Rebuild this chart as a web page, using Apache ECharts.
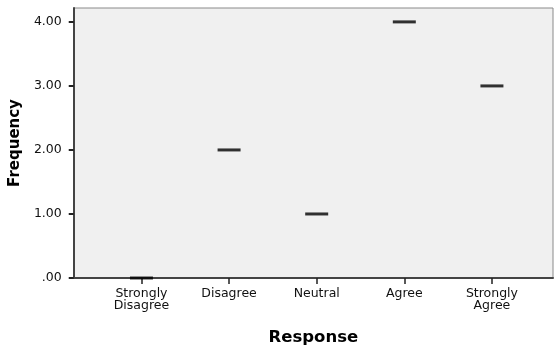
<!DOCTYPE html>
<html>
<head>
<meta charset="utf-8">
<script src="https://cdn.jsdelivr.net/npm/echarts@6/dist/echarts.min.js"></script>
<style>html,body{margin:0;padding:0;background:#fff}#c{width:555px;height:351px}</style>
</head>
<body>
<div id="c"></div>
<script>
var categories = ['Strongly\nDisagree', 'Disagree', 'Neutral', 'Agree', 'Strongly\nAgree'];
var frequency = [0, 2, 1, 4, 3];
var yTicks = [0, 1, 2, 3, 4];

var chart = echarts.init(document.getElementById('c'), null, {renderer: 'canvas'});
var pts = frequency.map(function (v, i) { return [i, v]; });
var xTicks = categories.map(function (c, i) { return i; });
var font = '"DejaVu Sans", Verdana, sans-serif';
chart.setOption({
  animation: false,
  backgroundColor: '#ffffff',
  grid: {left: 72, right: 2, top: 8, bottom: 71, show: true, backgroundColor: '#f0f0f0', borderColor: '#8a8a8a', borderWidth: 1},
  xAxis: {
    type: 'value', min: -0.773, max: 4.697,
    name: 'Response', nameLocation: 'middle', nameGap: 51,
    nameTextStyle: {fontFamily: font, fontSize: 16.5, fontWeight: 'bold', color: '#000'},
    splitLine: {show: false},
    axisLine: {show: true, onZero: false, lineStyle: {color: '#444', width: 2}},
    axisTick: {show: true, length: 6, customValues: xTicks, lineStyle: {color: '#222', width: 1.5}},
    axisLabel: {customValues: xTicks, margin: 10, fontFamily: font, fontSize: 12.5, color: '#111', lineHeight: 12,
      formatter: function (v) { return categories[Math.round(v)]; }}
  },
  yAxis: {
    type: 'value', min: 0, max: 4.217,
    name: 'Frequency', nameLocation: 'middle', nameGap: 44,
    nameTextStyle: {fontFamily: font, fontSize: 15, fontWeight: 'bold', color: '#000'},
    splitLine: {show: false},
    axisLine: {show: true, onZero: false, lineStyle: {color: '#444', width: 2}},
    axisTick: {show: true, length: 5, customValues: yTicks, lineStyle: {color: '#222', width: 2}},
    axisLabel: {customValues: yTicks, margin: 12, fontFamily: font, fontSize: 12.5, color: '#111',
      formatter: function (v) { return v === 0 ? '.00' : v.toFixed(2); }}
  },
  series: [{
    type: 'scatter', data: pts, symbol: 'rect', symbolSize: [23, 3],
    itemStyle: {color: '#000'}, z: 5
  }]
});
</script>
</body>
</html>
